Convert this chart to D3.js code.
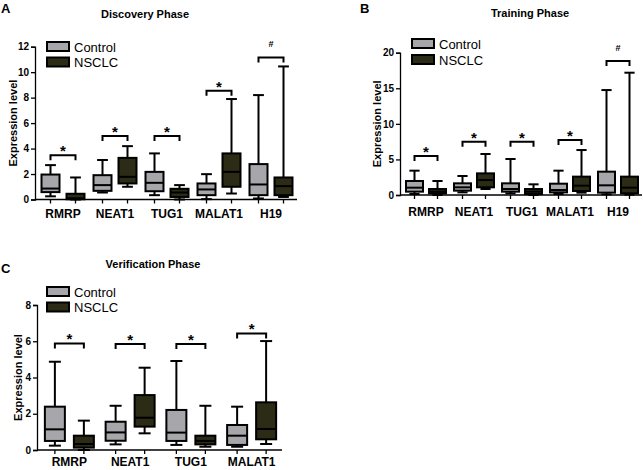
<!DOCTYPE html>
<html><head><meta charset="utf-8">
<script src="https://cdn.jsdelivr.net/npm/d3@7"></script>
<style>body{margin:0;background:#fff}svg{display:block}text{font-family:Arial,"Liberation Sans",sans-serif}</style>
</head><body><svg id="c" width="643" height="470"></svg>
<script>
// ---- data: [min, q1, median, q3, max] ----
const discoveryCats = ["RMRP","NEAT1","TUG1","MALAT1","H19"];
const discoveryControl = [[0.25,0.58,0.86,1.96,2.7],[0.55,0.68,1.13,1.91,3.1],[0.34,0.65,1.31,2.17,3.62],[0.03,0.34,0.79,1.26,1.99],[0.08,0.34,1.18,2.78,8.2]];
const discoveryNSCLC   = [[0,0.02,0.1,0.45,1.73],[1.0,1.26,1.78,3.27,4.19],[0,0.2,0.55,0.84,1.13],[0.47,1.0,2.17,3.62,7.89],[0.2,0.34,1.05,1.73,10.45]];
const discoveryBrackets = [3.48,4.98,4.98,8.54,11.16];
const discoveryMarks = ["*","*","*","*","#"];
const discoveryTicks = [0,2,4,6,8,10,12];

const trainingCats = ["RMRP","NEAT1","TUG1","MALAT1","H19"];
const trainingControl = [[0.14,0.47,1.03,1.97,3.42],[0.37,0.61,1.08,1.64,2.67],[0.23,0.47,0.84,1.64,5.06],[0.14,0.37,0.7,1.59,3.42],[0.09,0.33,1.36,3.28,14.75]];
const trainingNSCLC   = [[0,0.23,0.47,0.84,1.97],[0.84,1.08,2.1,3.04,5.76],[0,0.14,0.47,0.84,1.5],[0.33,0.56,1.31,2.58,6.32],[0.05,0.23,1.03,2.58,17.19]];
const trainingBrackets = [5.48,7.49,7.49,7.73,18.83];
const trainingMarks = ["*","*","*","*","#"];
const trainingTicks = [0,5,10,15,20];

const verificationCats = ["RMRP","NEAT1","TUG1","MALAT1"];
const verificationControl = [[0.24,0.5,1.14,2.39,4.87],[0.31,0.51,0.97,1.56,2.44],[0.28,0.5,0.96,2.21,4.91],[0.18,0.28,0.79,1.38,2.39]];
const verificationNSCLC   = [[0,0.13,0.33,0.79,1.62],[0.92,1.29,1.78,3.03,4.54],[0.18,0.31,0.5,0.79,2.44],[0.33,0.59,1.16,2.63,6.01]];
const verificationBrackets = [5.88,5.85,5.85,6.43];
const verificationMarks = ["*","*","*","*"];
const verificationTicks = [0,2,4,6,8];

const seriesNames = ["Control","NSCLC"];
const seriesColors = ["#a7a7ab","#2c2b15"];

const svg = d3.select("#c");

function panel(o){
  const g = svg.append("g");
  const y = d3.scaleLinear().domain([0,o.ymax]).range([o.y0,o.y1]);
  const x = d3.scaleBand().domain(o.cats).range([o.x0+2,o.x1]).paddingInner(0).paddingOuter(0);
  // letter + title
  g.append("text").attr("x",o.letter[0]).attr("y",o.letter[1]).attr("font-size",13).attr("font-weight","bold").text(o.letter[2]);
  g.append("text").attr("x",o.title[0]).attr("y",o.title[1]).attr("text-anchor","middle").attr("font-size",11).attr("font-weight","bold").text(o.title[2]);
  // y axis
  const ya = g.append("g").attr("transform",`translate(${o.x0},0)`)
    .call(d3.axisLeft(y).tickValues(o.ticks).tickSize(4).tickPadding(2).tickFormat(d3.format("d")));
  ya.select(".domain").attr("stroke","#000").attr("stroke-width",1.3);
  ya.selectAll(".tick line").attr("stroke-width",1.3);
  ya.selectAll("text").attr("font-size",10).attr("font-weight","bold").attr("font-family","Arial, Liberation Sans, sans-serif");
  g.append("text").attr("transform",`translate(${o.ylab},${(o.y0+o.y1)/2}) rotate(-90)`).attr("text-anchor","middle")
    .attr("font-size",11).attr("font-weight","bold").text("Expression level");
  // x axis
  const xa = g.append("g").attr("transform",`translate(0,${o.y0})`);
  xa.append("line").attr("x1",o.x0).attr("x2",o.x1).attr("stroke","#000").attr("stroke-width",1.3);
  const off = o.off;
  o.cats.forEach((c,i)=>{
    const cx = x(c)+x.bandwidth()/2;
    [cx-off,cx+off].forEach(px=>xa.append("line").attr("x1",px).attr("x2",px).attr("y1",0).attr("y2",4).attr("stroke","#000").attr("stroke-width",1.3));
    xa.append("text").attr("x",cx).attr("y",o.labY-o.y0).attr("text-anchor","middle").attr("font-size",12).attr("font-weight","bold").text(c);
  });
  // boxes
  const bw = o.bw;
  [o.control,o.nsclc].forEach((arr,s)=>{
    arr.forEach((d,i)=>{
      const cx = x(o.cats[i])+x.bandwidth()/2 + (s===0?-off:off);
      const [mn,q1,md,q3,mx] = d;
      const bg = g.append("g").attr("stroke","#000").attr("stroke-width",2);
      bg.append("line").attr("x1",cx).attr("x2",cx).attr("y1",y(mx)).attr("y2",y(q3));
      bg.append("line").attr("x1",cx).attr("x2",cx).attr("y1",y(q1)).attr("y2",y(mn));
      bg.append("line").attr("x1",cx-bw*0.3).attr("x2",cx+bw*0.3).attr("y1",y(mx)).attr("y2",y(mx));
      bg.append("line").attr("x1",cx-bw*0.3).attr("x2",cx+bw*0.3).attr("y1",y(mn)).attr("y2",y(mn));
      bg.append("rect").attr("x",cx-bw/2).attr("y",y(q3)).attr("width",bw).attr("height",Math.max(0.5,y(q1)-y(q3))).attr("fill",seriesColors[s]);
      bg.append("line").attr("x1",cx-bw/2).attr("x2",cx+bw/2).attr("y1",y(md)).attr("y2",y(md));
    });
  });
  // brackets
  o.brackets.forEach((b,i)=>{
    const cx = x(o.cats[i])+x.bandwidth()/2;
    const by = y(b);
    g.append("path").attr("d",`M${cx-off},${by+5}V${by}H${cx+off}V${by+5}`).attr("fill","none").attr("stroke","#000").attr("stroke-width",2);
    const m = o.marks[i];
    if(m==="*") g.append("text").attr("x",cx).attr("y",by+1).attr("text-anchor","middle").attr("font-size",15).attr("font-weight","bold").text("*");
    else g.append("text").attr("x",cx).attr("y",by-10).attr("text-anchor","middle").attr("font-size",9).attr("font-weight","bold").text(m);
  });
  // legend
  seriesNames.forEach((n,s)=>{
    const ly = o.leg[1]+s*o.legGap;
    g.append("rect").attr("x",o.leg[0]).attr("y",ly).attr("width",22).attr("height",9).attr("fill",seriesColors[s]).attr("stroke","#000").attr("stroke-width",2);
    g.append("text").attr("x",o.leg[0]+27).attr("y",ly+9.5).attr("font-size",13).text(n);
  });
}

panel({cats:discoveryCats,control:discoveryControl,nsclc:discoveryNSCLC,brackets:discoveryBrackets,marks:discoveryMarks,ticks:discoveryTicks,
  ymax:12,y0:199.5,y1:46.7,x0:35,x1:297,off:12.5,bw:18,labY:218,ylab:17,
  letter:[1,13,"A"],title:[145,18,"Discovery Phase"],leg:[47,42],legGap:15.5});
panel({cats:trainingCats,control:trainingControl,nsclc:trainingNSCLC,brackets:trainingBrackets,marks:trainingMarks,ticks:trainingTicks,
  ymax:20,y0:195,y1:52.7,x0:400,x1:642,off:11.5,bw:17,labY:216,ylab:381,
  letter:[360,13,"B"],title:[530,17,"Training Phase"],leg:[412,39],legGap:16});
panel({cats:verificationCats,control:verificationControl,nsclc:verificationNSCLC,brackets:verificationBrackets,marks:verificationMarks,ticks:verificationTicks,
  ymax:8,y0:450,y1:305,x0:37,x1:282,off:14.5,bw:20,labY:466,ylab:22,
  letter:[1,273,"C"],title:[153,268,"Verification Phase"],leg:[47,287],legGap:15.5});
</script></body></html>
